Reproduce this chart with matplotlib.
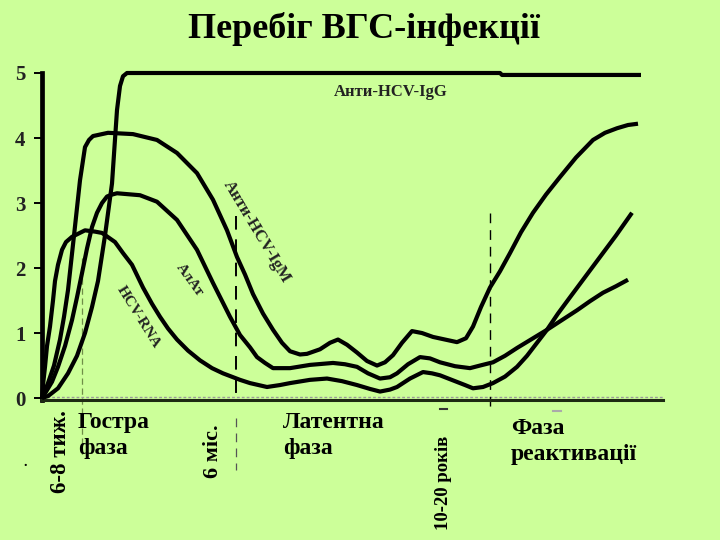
import matplotlib
matplotlib.use("Agg")
import matplotlib.pyplot as plt

BG = "#CCFF99"

# time axis (arbitrary schematic units) and levels 0..5
igg_x = [42, 48, 58, 68, 77, 85, 92, 98, 105, 112, 117, 120, 123, 127, 500, 502, 641]
igg_y = [0, 0.03, 0.15, 0.38, 0.65, 1.0, 1.4, 1.8, 2.5, 3.3, 4.43, 4.8, 4.95, 5.0,
         5.0, 4.97, 4.97]

igm_x = [42, 48, 54, 60, 64, 68, 74, 80, 85, 89, 93, 108, 133, 157, 177, 197, 213,
         227, 237, 245, 253, 263, 273, 282, 290, 300, 307, 320, 330, 338, 347, 357,
         367, 377, 385, 393, 402, 412, 422, 433, 445, 457, 466, 473, 481, 490, 500,
         510, 521, 533, 546, 560, 576, 593, 605, 617, 628, 638]
igm_y = [0, 0.23, 0.5, 0.9, 1.25, 1.66, 2.5, 3.35, 3.86, 3.97, 4.03, 4.08, 4.06,
         3.97, 3.77, 3.46, 3.05, 2.58, 2.17, 1.9, 1.6, 1.3, 1.05, 0.85, 0.72, 0.67,
         0.68, 0.75, 0.85, 0.9, 0.82, 0.7, 0.57, 0.5, 0.55, 0.66, 0.85, 1.03, 1.0,
         0.94, 0.9, 0.86, 0.92, 1.1, 1.4, 1.7, 1.95, 2.23, 2.55, 2.85, 3.13, 3.4,
         3.7, 3.97, 4.08, 4.15, 4.2, 4.22]

alt_x = [42, 45, 52, 58, 65, 72, 77, 82, 87, 92, 97, 102, 107, 112, 117, 140, 157,
         177, 197, 213, 230, 240, 250, 257, 265, 273, 290, 310, 333, 345, 357, 368,
         380, 390, 397, 408, 420, 430, 440, 455, 470, 480, 493, 505, 517, 532, 547,
         562, 577, 590, 603, 616, 628]
alt_y = [0, 0.07, 0.25, 0.48, 0.8, 1.2, 1.55, 1.92, 2.3, 2.63, 2.85, 3.0, 3.1, 3.13,
         3.15, 3.12, 3.02, 2.74, 2.28, 1.77, 1.25, 0.97, 0.78, 0.63, 0.54, 0.46,
         0.46, 0.51, 0.54, 0.52, 0.48, 0.38, 0.3, 0.32, 0.38, 0.52, 0.63, 0.61, 0.55,
         0.49, 0.46, 0.5, 0.55, 0.65, 0.77, 0.91, 1.05, 1.2, 1.35, 1.49, 1.62, 1.72,
         1.82]

rna_x = [42, 43, 45, 47, 50, 53, 55, 58, 62, 66, 72, 85, 95, 102, 115, 123, 132,
         143, 152, 160, 168, 177, 188, 200, 212, 223, 240, 250, 267, 280, 290, 310,
         327, 342, 357, 370, 380, 390, 397, 410, 423, 432, 440, 455, 465, 473, 483,
         493, 505, 517, 527, 537, 547, 558, 570, 585, 600, 616, 632]
rna_y = [0, 0.2, 0.48, 0.8, 1.1, 1.5, 1.8, 2.05, 2.28, 2.4, 2.48, 2.58, 2.56, 2.54,
         2.4, 2.23, 2.05, 1.7, 1.45, 1.25, 1.07, 0.9, 0.73, 0.58, 0.46, 0.38, 0.28,
         0.23, 0.17, 0.2, 0.23, 0.28, 0.3, 0.26, 0.2, 0.14, 0.1, 0.13, 0.17, 0.3,
         0.4, 0.38, 0.35, 0.26, 0.2, 0.15, 0.17, 0.23, 0.33, 0.48, 0.65, 0.85, 1.05,
         1.3, 1.55, 1.86, 2.17, 2.5, 2.85]

yticks = [0, 1, 2, 3, 4, 5]
ytick_labels = ["0", "1", "2", "3", "4", "5"]

W, H = 720, 540
fig = plt.figure(figsize=(7.2, 5.4), dpi=100, facecolor=BG)

def fx(px):
    return px / W

def fy(py):
    return 1 - py / H

ax = fig.add_axes([fx(42), fy(400), fx(663) - fx(42), fy(73) - fy(400)])
ax.set_facecolor(BG)
ax.set_xlim(42, 663)
ax.set_ylim(-0.03, 5)

SERIF = "Liberation Serif"
lw = 3.0
for xs, ys in [(igg_x, igg_y), (igm_x, igm_y), (alt_x, alt_y), (rna_x, rna_y)]:
    ax.plot(xs, ys, color="black", lw=lw, solid_joinstyle="round",
            solid_capstyle="butt", clip_on=False, zorder=3)

for s in ["top", "right"]:
    ax.spines[s].set_visible(False)
ax.spines["left"].set_linewidth(3.4)
ax.spines["left"].set_color("black")
ax.spines["bottom"].set_linewidth(2.2)
ax.spines["bottom"].set_color("#1d2a12")
ax.axhline(0.02, color="#9a9a9a", lw=1.0, ls=(0, (2, 1.5)), zorder=2)

ax.set_yticks(yticks)
ax.set_yticklabels(ytick_labels)
ax.set_xticks([])
ax.tick_params(axis="y", direction="out", length=6, width=1.4, pad=6,
               colors="black")
for lab in ax.get_yticklabels():
    lab.set_fontfamily(SERIF)
    lab.set_fontweight("bold")
    lab.set_fontsize(15)
    lab.set_color("#222222")

# dashed vertical markers
ax.plot([82, 82], [2.15, -0.9], color="#6f8f48", lw=0.9, ls=(0, (5, 3)), clip_on=False)
ax.plot([236, 236], [2.8, 0.0], color="black", lw=1.4, ls=(0, (7, 5)), clip_on=False)
ax.plot([236, 236], [-0.3, -1.1], color="#555555", lw=0.9, ls=(0, (7, 5)), clip_on=False)
ax.plot([490, 490], [2.85, -0.2], color="black", lw=1.0, ls=(0, (7, 5)), clip_on=False)
ax.plot([440, 447], [-0.17, -0.17], color="#333333", lw=1.5, clip_on=False)
ax.plot([553, 561], [-0.2, -0.2], color="#aaaaaa", lw=1.5, clip_on=False)

# curve labels
lab_kw = dict(fontfamily=SERIF, fontweight="bold", color="#222222",
              ha="center", va="center", rotation_mode="anchor")
ax.text(391, 4.71, "Анти-HCV-IgG", fontsize=12, **lab_kw)
ax.text(257, 2.55, "Анти-HCV-IgM", fontsize=12, rotation=-59, **lab_kw)
ax.text(190, 1.82, "АлАт", fontsize=11, rotation=-54, **lab_kw)
ax.text(138, 1.25, "HCV-RNA", fontsize=11, rotation=-58, **lab_kw)

# title
fig.text(0.505, fy(29), "Перебіг ВГС-інфекції", fontfamily=SERIF, fontweight="bold",
         fontsize=26, ha="center", va="center", color="black")

# bottom phase labels
txt_kw = dict(fontfamily=SERIF, fontweight="bold", color="black")
fig.text(fx(60), fy(452), "6-8 тиж.", rotation=90, fontsize=16.5, ha="center",
         va="center", **txt_kw)
fig.text(fx(78), fy(412), "Гостра\nфаза", fontsize=17, ha="left", va="top",
         linespacing=1.3, **txt_kw)
fig.text(fx(213), fy(451), "6 міс.", rotation=90, fontsize=16, ha="center",
         va="center", **txt_kw)
fig.text(fx(283), fy(412), "Латентна\nфаза", fontsize=17, ha="left", va="top",
         linespacing=1.3, **txt_kw)
fig.text(fx(443), fy(483), "10-20 років", rotation=90, fontsize=13.5, ha="center",
         va="center", **txt_kw)
fig.text(fx(511), fy(418), "Фаза\nреактивації", fontsize=17, ha="left", va="top",
         linespacing=1.3, **txt_kw)
fig.text(fx(25), fy(462), ".", fontsize=10, ha="center", va="center", **txt_kw)

fig.savefig("out.png", dpi=100, facecolor=BG)
